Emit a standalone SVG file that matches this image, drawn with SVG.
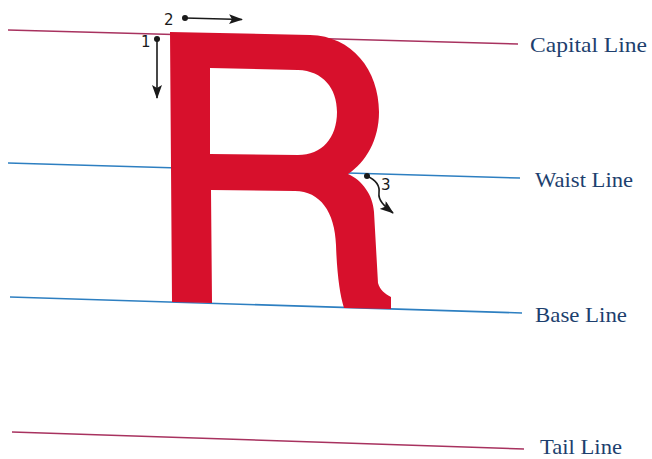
<svg xmlns="http://www.w3.org/2000/svg" width="652" height="459" viewBox="0 0 652 459">
<style>
.lbl{font-family:"Liberation Serif","DejaVu Serif",serif;font-size:22px;fill:#1d3f6e}
.num{font-family:"DejaVu Sans","Liberation Sans",sans-serif;font-size:15px;fill:#1a1a1a}
.mag{stroke:#a8325f;stroke-width:1.5;fill:none}
.blu{stroke:#2d7fc1;stroke-width:1.5;fill:none}
.arr{stroke:#1a1a1a;stroke-width:1.6;fill:none}
</style>
<defs>
<marker id="ah" viewBox="0 0 14 10" refX="13" refY="5" markerWidth="14" markerHeight="10" markerUnits="userSpaceOnUse" orient="auto">
<path d="M0,0 L14,5 L0,10 L3,5 Z" fill="#1a1a1a"/>
</marker>
</defs>
<rect width="652" height="459" fill="#ffffff"/>
<g id="guides">
<line class="mag" x1="8" y1="30" x2="518" y2="44"/>
<line class="blu" x1="8" y1="163" x2="520" y2="178"/>
<line class="blu" x1="10" y1="297" x2="522" y2="313"/>
<line class="mag" x1="12" y1="432" x2="524" y2="449"/>
</g>
<g id="letter-R">
<path fill="#d7102c" fill-rule="evenodd" d="M170,32 L310,35 C352,36 379,70 379,112 C379,140 366,162 348,174 C362,180 373,195 374,212 L378,283 C380,290 385,294 391,297 L391,309 L344,308 C340,295 337,275 336,245 C335,212 320,191 295,191 L211,190 L212,303 L172,302 Z M210,68 L298,70 C323,71 337,88 337,112 C337,138 322,155 298,155 L210,154 Z"/>
</g>
<g id="connectors">
<circle cx="157" cy="39" r="3" fill="#1a1a1a"/>
<line class="arr" x1="157" y1="39" x2="157" y2="98" marker-end="url(#ah)"/>
<circle cx="185" cy="18" r="3" fill="#1a1a1a"/>
<line class="arr" x1="185" y1="18" x2="242" y2="19.5" marker-end="url(#ah)"/>
<circle cx="367" cy="176" r="3" fill="#1a1a1a"/>
<path class="arr" d="M367,176 C376,180 380,186 379,193 C378,200 384,206 393,213" marker-end="url(#ah)"/>
</g>
<g id="labels">
<text class="num" x="141" y="47">1</text>
<text class="num" x="164" y="25">2</text>
<text class="num" x="381" y="190">3</text>
<text class="lbl" x="530" y="52" textLength="117" lengthAdjust="spacingAndGlyphs">Capital Line</text>
<text class="lbl" x="535" y="187" textLength="98" lengthAdjust="spacingAndGlyphs">Waist Line</text>
<text class="lbl" x="535" y="322" textLength="92" lengthAdjust="spacingAndGlyphs">Base Line</text>
<text class="lbl" x="540" y="454" textLength="82" lengthAdjust="spacingAndGlyphs">Tail Line</text>
</g>
</svg>
